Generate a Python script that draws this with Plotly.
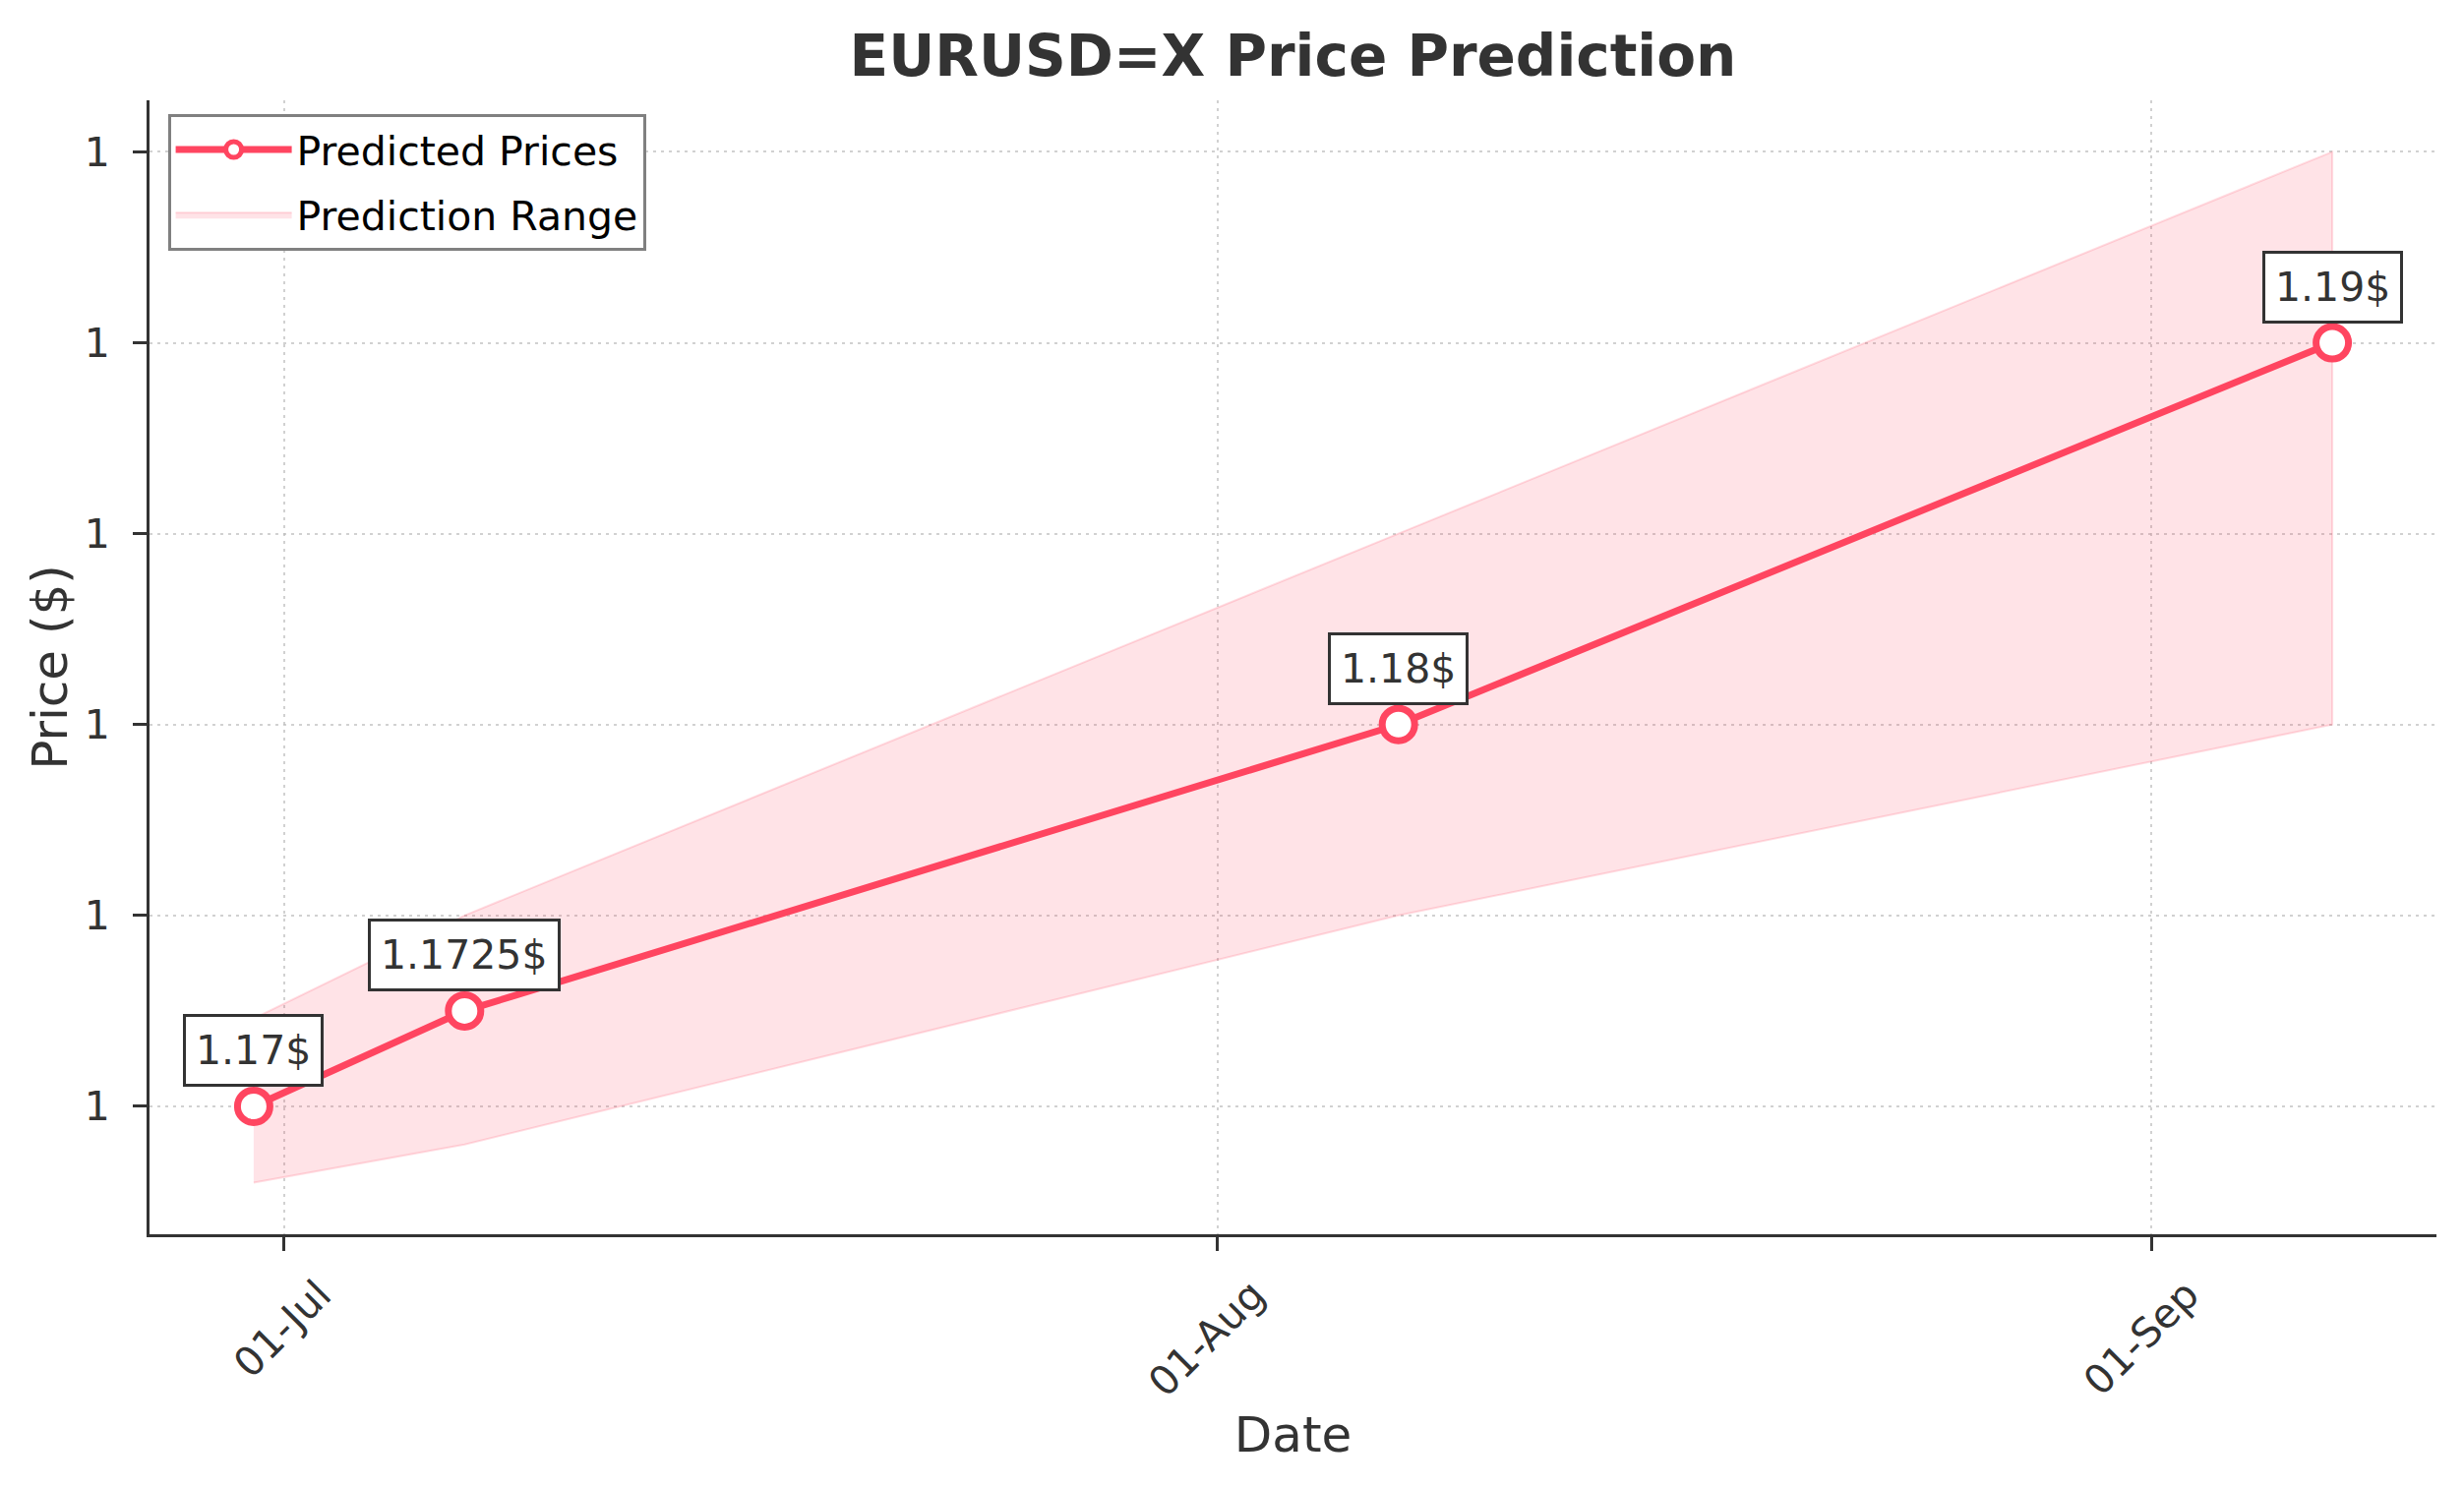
import plotly.graph_objects as go

# prediction data
dates = ["2025-06-30", "2025-07-07", "2025-08-07", "2025-09-07"]
predicted = [1.17, 1.1725, 1.18, 1.19]
upper = [1.1723, 1.175, 1.185, 1.195]
lower = [1.168, 1.169, 1.175, 1.18]

tick_dates = ["2025-07-01", "2025-08-01", "2025-09-01"]
tick_text = ["01-Jul", "01-Aug", "01-Sep"]

red = "#FF4560"
dark = "#333333"
font = "DejaVu Sans"

# page body has an 8px margin, so the figure is a bit smaller than the window
W, H = 2497, 1505

fig = go.Figure()

# shaded range as a closed polygon
fig.add_trace(go.Scatter(
    x=dates + dates[::-1],
    y=upper + lower[::-1],
    fill="toself",
    fillcolor="rgba(255,69,96,0.15)",
    line=dict(color="rgba(255,69,96,0.18)", width=2),
    mode="lines",
    name="Prediction Range",
    legendrank=2, legendgroup="range",
    hoverinfo="skip",
))

fig.add_trace(go.Scatter(
    x=dates, y=predicted,
    mode="lines+markers",
    name="Predicted Prices",
    line=dict(color=red, width=7),
    marker=dict(symbol="circle", size=33, color="white",
                line=dict(color=red, width=7)),
    legendrank=1, legendgroup="pred",
))

for d, p in zip(dates, predicted):
    fig.add_annotation(
        x=d, y=p, text=f"{p}$", showarrow=False,
        yanchor="bottom", yshift=20,
        font=dict(family=font, size=41, color=dark),
        bgcolor="white", bordercolor=dark, borderwidth=3, borderpad=10,
    )

fig.update_layout(
    width=W, height=H,
    margin=dict(l=144, r=28, t=94, b=258),
    paper_bgcolor="white", plot_bgcolor="white",
    font=dict(family=font, size=41, color=dark),
    title=dict(text="<b>EURUSD=X Price Prediction</b>", x=0.5, xref="paper",
               xanchor="center", y=1 - 49 / H, yanchor="middle",
               font=dict(family=font, size=58, color=dark)),
    legend=dict(x=0.008, y=0.988, xanchor="left", yanchor="top",
                bgcolor="white", bordercolor="#808080", borderwidth=3,
                itemwidth=118, tracegroupgap=10,
                font=dict(family=font, size=41, color="black")),
    showlegend=True,
)

fig.update_xaxes(
    type="date", automargin=False,
    range=["2025-06-26 13:00", "2025-09-10 11:00"],
    tickvals=tick_dates, ticktext=tick_text, tickangle=-45,
    ticklabelshift=36, ticklabelstandoff=4,
    ticks="outside", ticklen=14, tickwidth=3, tickcolor=dark,
    showline=True, linecolor=dark, linewidth=3,
    showgrid=True, gridcolor="rgba(190,190,190,0.7)", gridwidth=2, griddash="3px,5px",
    zeroline=False,
    title=dict(text="Date", font=dict(family=font, size=50, color=dark), standoff=6),
)

fig.update_yaxes(
    automargin=False,
    range=[1.16665, 1.19635],
    tick0=1.17, dtick=0.005, tickformat=".0f",
    ticks="outside", ticklen=14, tickwidth=3, tickcolor=dark,
    ticklabelstandoff=15,
    showline=True, linecolor=dark, linewidth=3,
    showgrid=True, gridcolor="rgba(190,190,190,0.7)", gridwidth=2, griddash="3px,5px",
    zeroline=False,
    title=dict(text="Price ($)", font=dict(family=font, size=50, color=dark), standoff=2),
)

fig.write_html("out.html")
